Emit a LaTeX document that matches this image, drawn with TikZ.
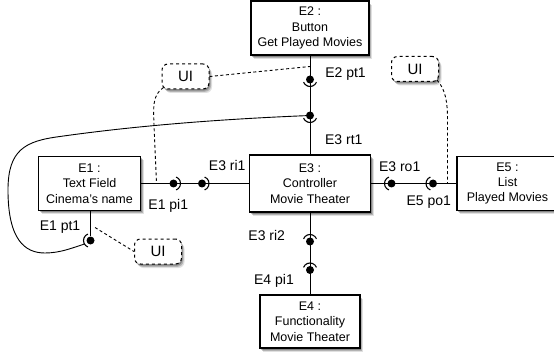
\documentclass[tikz,border=0pt]{standalone}
\usepackage{fontspec}
\setmainfont{Liberation Sans}
\usetikzlibrary{shadows}
\begin{document}
\begin{tikzpicture}[x=1pt,y=-1pt,
  shad/.style={drop shadow={shadow xshift=3pt,shadow yshift=-4pt,opacity=0.12,fill=black},
               drop shadow={shadow xshift=2pt,shadow yshift=-2.8pt,opacity=0.2,fill=black},
               drop shadow={shadow xshift=1pt,shadow yshift=-1.6pt,opacity=0.25,fill=black}},
  box/.style={draw, line width=1.2pt, fill=white, align=center, inner sep=0pt,
    font=\fontsize{12.5}{15.3}\selectfont, shad},
  ui/.style={draw, dashed, line width=1pt, rounded corners=6pt, fill=white,
    minimum width=47pt, minimum height=25pt, inner sep=0pt,
    font=\fontsize{15}{15}\selectfont, shad},
  ball/.style={circle, fill=black, inner sep=0pt, minimum size=8pt},
  lbl/.style={font=\fontsize{14}{14}\selectfont, inner sep=0pt},
  conn/.style={line width=0.9pt},
  dconn/.style={line width=0.9pt, dash pattern=on 3pt off 2.5pt},
  sock/.pic={\draw[line width=1.1pt] (-68:7) arc[start angle=-68,end angle=68,radius=7];}
]
\fill[white] (0,0) rectangle (554,358);
\useasboundingbox (0,0) rectangle (554,358);

% boxes
\node[box, minimum width=118pt, minimum height=54pt] (E2) at (310,28) {E2 :\\Button\\Get Played Movies};
\node[box, minimum width=102pt, minimum height=54pt] (E1) at (89.5,183.5) {E1 :\\Text Field\\Cinema's name};
\node[box, minimum width=121pt, minimum height=57pt] (E3) at (310,183.5) {E3 :\\Controller\\Movie Theater};
\node[box, minimum width=101pt, minimum height=54pt] (E5) at (507.5,183.5) {E5 :\\List\\Played Movies};
\node[box, minimum width=100pt, minimum height=53pt] (E4) at (310,321.5) {E4 :\\Functionality\\Movie Theater};

% UI notes
\node[ui] (u1) at (185.5,76.5) {UI};
\node[ui] (u2) at (415,69) {UI};
\node[ui] (u3) at (158,251.5) {UI};

% port balls
\node[ball] (b2) at (310,79.5) {};
\node[ball] (b3t) at (310,115.5) {};
\node[ball] (b1i) at (173.5,183.5) {};
\node[ball] (b3i) at (202,183.5) {};
\node[ball] (b3o) at (391.5,183.5) {};
\node[ball] (b5o) at (433,183.5) {};
\node[ball] (b3r) at (310,241.5) {};
\node[ball] (b4i) at (310,270) {};
\node[ball] (b1t) at (90.5,240.5) {};

% sockets
\pic[rotate=-90] at (b2) {sock};
\pic[rotate=-90] at (b3t) {sock};
\pic at (b1i) {sock};
\pic at (b3i) {sock};
\pic[rotate=180] at (b3o) {sock};
\pic[rotate=180] at (b5o) {sock};
\pic[rotate=90] at (b3r) {sock};
\pic[rotate=90] at (b4i) {sock};
\pic[rotate=180] at (b1t) {sock};

% coordinates for free ends
\coordinate (ce) at ([shift={(-6,3.5)}]b1t);
\coordinate (d1) at (156.5,183.5);
\coordinate (d2) at (310,66.5);
\coordinate (d3) at (95,227.5);
\coordinate (d5) at (447.5,183.5);

% solid connectors
\draw[conn] (E1) -- (E3);
\draw[conn] (E3) -- (E5);
\draw[conn] (E2) -- (E3);
\draw[conn] (E3) -- (E4);
\draw[conn] (E1.south -| b1t) -- (b1t);
\draw[conn] (b3t) .. controls (200,120) and (120,128) .. (60,136.5)
  .. controls (25,141) and (8,150) .. (8,190)
  .. controls (8,240) and (25,253) .. (45,253)
  .. controls (60,253) and (72,248) .. (ce);

% dashed connectors
\draw[dconn] (u1.east) -- (d2);
\draw[dconn] ([xshift=2pt,yshift=2pt]u1.south west) .. controls (152,95) and (153.5,108) .. (154,125) -- (d1);
\draw[dconn] ([xshift=-2pt,yshift=2pt]u2.south east) .. controls (446,90) and (447.5,103) .. (447.5,120) -- (d5);
\draw[dconn] (d3) -- (u3.west);

% labels
\node[lbl] (l1) at (345.5,74) {E2 pt1};
\node[lbl] (l2) at (343.8,140) {E3 rt1};
\node[lbl] (l3) at (227.2,165.3) {E3 ri1};
\node[lbl] (l4) at (168.3,205.8) {E1 pi1};
\node[lbl] (l5) at (399.7,166.5) {E3 ro1};
\node[lbl] (l6) at (428.7,202) {E5 po1};
\node[lbl] (l7) at (266.7,235) {E3 ri2};
\node[lbl] (l8) at (274,280.8) {E4 pi1};
\node[lbl] (l9) at (60,227.5) {E1 pt1};
\end{tikzpicture}
\end{document}
